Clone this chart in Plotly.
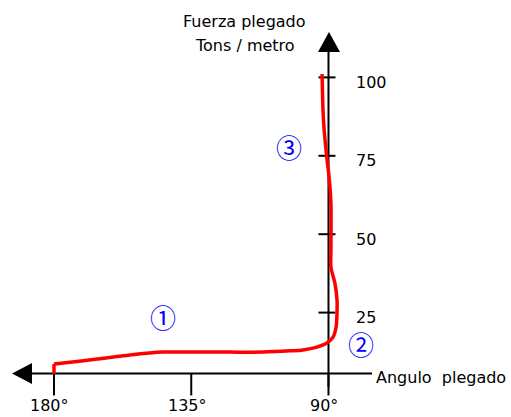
import plotly.graph_objects as go

# ---- data ----
angle = [180.0, 180.0, 177.0, 165.9, 155.1, 144.3, 133.1, 122.3, 111.5, 102.6, 98.4, 93.8,
         90.5, 88.5, 87.5, 87.2, 87.2, 87.9, 89.2, 89.2, 89.2, 89.8, 90.5, 91.5, 91.8, 92.1]
force = [5.4, 8.6, 8.9, 10.2, 11.5, 12.4, 12.4, 12.4, 12.4, 12.8, 13.1, 14.0,
         15.3, 17.2, 20.4, 25.2, 29.0, 34.4, 39.5, 45.0, 60.0, 68.2, 74.0, 84.2, 89.6, 101.1]

x_tick_vals = [180, 135, 90]
x_tick_text = ["180°", "135°", "90°"]
y_tick_vals = [25, 50, 75, 100]
y_tick_text = ["25", "50", "75", "100"]

phase_labels = ["①", "②", "③"]
phase_angle = [144.1, 79.3, 103.0]
phase_force = [23.6, 15.0, 78.1]

x_title = "Angulo  plegado"
y_title = ["Fuerza plegado", "Tons / metro"]

# axis geometry (data units)
X_AXIS_Y = 5.6
X_AXIS_LEFT = 187.2
X_AXIS_RIGHT = 75.7
Y_AXIS_X = 90
Y_AXIS_TOP = 108.1
Y_AXIS_BOTTOM = 1.3

FONT = "DejaVu Sans"

fig = go.Figure()

# vertical start stub (sharp corner) and smooth curve
fig.add_trace(go.Scatter(x=angle[:2], y=force[:2], mode="lines",
                         line=dict(color="#ff0000", width=3.5), hoverinfo="skip"))
fig.add_trace(go.Scatter(x=angle[1:], y=force[1:], mode="lines",
                         line=dict(color="#ff0000", width=3.5, shape="spline", smoothing=0.8),
                         hoverinfo="skip"))

shapes = []
# horizontal axis
shapes.append(dict(type="line", xref="x", yref="y", x0=X_AXIS_LEFT, x1=X_AXIS_RIGHT,
                   y0=X_AXIS_Y, y1=X_AXIS_Y, line=dict(color="black", width=2), layer="below"))
# vertical axis
shapes.append(dict(type="line", xref="x", yref="y", x0=Y_AXIS_X, x1=Y_AXIS_X,
                   y0=Y_AXIS_BOTTOM, y1=Y_AXIS_TOP, line=dict(color="black", width=2), layer="below"))
# arrow heads
shapes.append(dict(type="path", xref="x", yref="y", xsizemode="pixel", ysizemode="pixel",
                   xanchor=X_AXIS_LEFT, yanchor=X_AXIS_Y,
                   path="M 0,-10.5 L 0,10.5 L -20,0 Z", fillcolor="black", line=dict(width=0)))
shapes.append(dict(type="path", xref="x", yref="y", xsizemode="pixel", ysizemode="pixel",
                   xanchor=Y_AXIS_X, yanchor=Y_AXIS_TOP,
                   path="M -10.5,0 L 11.5,0 L 0.5,20 Z", fillcolor="black", line=dict(width=0)))
# x ticks
for xv in x_tick_vals:
    shapes.append(dict(type="line", xref="x", yref="y", ysizemode="pixel", yanchor=X_AXIS_Y,
                       x0=xv, x1=xv, y0=0, y1=-22, line=dict(color="black", width=2), layer="below"))
# y ticks
for yv in y_tick_vals:
    shapes.append(dict(type="line", xref="x", yref="y", xsizemode="pixel", xanchor=Y_AXIS_X,
                       x0=-10, x1=7, y0=yv, y1=yv, line=dict(color="black", width=2), layer="below"))

annotations = []
for xv, t in zip(x_tick_vals, x_tick_text):
    annotations.append(dict(x=xv, y=X_AXIS_Y, xref="x", yref="y", text=t, showarrow=False,
                            xanchor="center", yanchor="middle", xshift=-4, yshift=-32,
                            font=dict(family=FONT, size=16, color="black")))
for yv, t in zip(y_tick_vals, y_tick_text):
    annotations.append(dict(x=Y_AXIS_X, y=yv, xref="x", yref="y", text=t, showarrow=False,
                            xanchor="left", yanchor="middle", xshift=26, yshift=-5,
                            font=dict(family=FONT, size=16, color="black")))
annotations.append(dict(x=X_AXIS_RIGHT, y=X_AXIS_Y, xref="x", yref="y", text=x_title,
                        showarrow=False, xanchor="left", yanchor="middle", xshift=2, yshift=-4,
                        font=dict(family=FONT, size=16, color="black")))
for i, t in enumerate(y_title):
    annotations.append(dict(x=244.5 / 511, y=1 - (21 + 24 * i) / 417, xref="paper", yref="paper",
                            text=t, showarrow=False, xanchor="center", yanchor="middle",
                            font=dict(family=FONT, size=16, color="black")))
for t, xv, yv in zip(phase_labels, phase_angle, phase_force):
    annotations.append(dict(x=xv, y=yv, xref="x", yref="y", text=t, showarrow=False,
                            xanchor="center", yanchor="middle",
                            font=dict(family="Noto Sans CJK JP", size=26, color="#0000ff")))

fig.update_layout(
    width=511, height=417,
    margin=dict(l=0, r=0, t=0, b=0),
    paper_bgcolor="white", plot_bgcolor="white",
    showlegend=False,
    xaxis=dict(range=[197.70, 30.16], visible=False, fixedrange=True),
    yaxis=dict(range=[-8.29, 124.68], visible=False, fixedrange=True),
    shapes=shapes,
    annotations=annotations,
)

fig.write_html("out.html", config={"displayModeBar": False},
               post_script="document.body.style.margin='0px';document.body.style.overflow='hidden';")
